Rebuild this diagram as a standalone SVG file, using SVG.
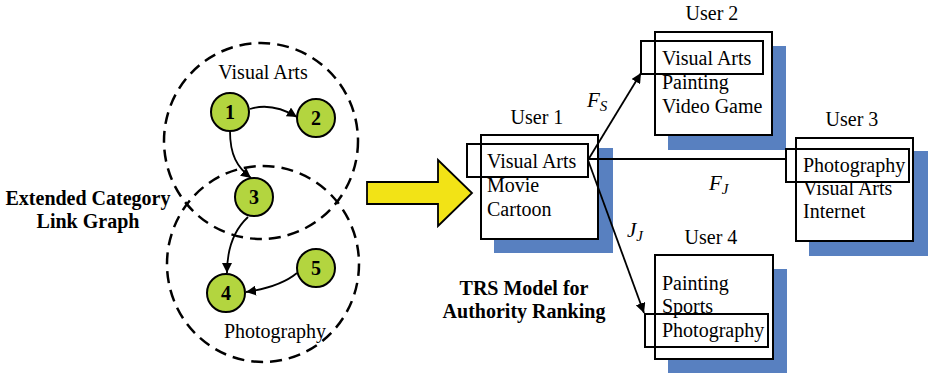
<svg xmlns="http://www.w3.org/2000/svg" width="929" height="373" viewBox="0 0 929 373">
<defs>
<marker id="ah" viewBox="0 0 10 10" refX="10" refY="5" markerWidth="10" markerHeight="10" markerUnits="userSpaceOnUse" orient="auto">
<path d="M0,0 L10,5 L0,10 Z" fill="#000"/>
</marker>
</defs>
<style>
text{font-family:"Liberation Serif","Times New Roman",serif;fill:#000}
.t{font-size:20px}
.b{font-size:20px;font-weight:bold}
.i{font-style:italic;font-size:21px}
.s{font-style:italic;font-size:15px}
.cat{fill:none;stroke:#000;stroke-width:2.5;stroke-dasharray:12,7}
.nd{fill:#B3D53F;stroke:#000;stroke-width:2}
.nt{font-size:20px;font-weight:bold;text-anchor:middle}
.sh{fill:#5880C0}
.bx{fill:#fff;stroke:#000;stroke-width:2}
.hl{fill:none;stroke:#000;stroke-width:2}
.e{fill:none;stroke:#000;stroke-width:1.8}
.c{text-anchor:middle}
</style>
<rect width="929" height="373" fill="#fff"/>

<g id="category-graph">
<ellipse class="cat" cx="261" cy="141" rx="97" ry="98"/>
<ellipse class="cat" cx="263" cy="264" rx="96" ry="98"/>
<text class="t c" x="263" y="79">Visual Arts</text>
<text class="t c" x="275" y="338">Photography</text>
<text class="b c" x="88" y="205">Extended Category</text>
<text class="b c" x="88" y="228">Link Graph</text>
</g>

<g id="graph-edges">
<path class="e" d="M250,109 Q272,102 297,117" marker-end="url(#ah)"/>
<path class="e" d="M230,131 C230,155 237,167 251,178" marker-end="url(#ah)"/>
<path class="e" d="M248,217 C234,230 227,250 227,273" marker-end="url(#ah)"/>
<path class="e" d="M297,273 Q280,287 246,292" marker-end="url(#ah)"/>
</g>

<g id="n1"><circle class="nd" cx="230" cy="112" r="19"/><text class="nt" x="230" y="119">1</text></g>
<g id="n2"><circle class="nd" cx="316" cy="118" r="19"/><text class="nt" x="316" y="125">2</text></g>
<g id="n3"><circle class="nd" cx="254" cy="197" r="19"/><text class="nt" x="254" y="204">3</text></g>
<g id="n4"><circle class="nd" cx="226" cy="293" r="19"/><text class="nt" x="226" y="300">4</text></g>
<g id="n5"><circle class="nd" cx="316" cy="268" r="19"/><text class="nt" x="316" y="275">5</text></g>

<g id="big-arrow">
<path d="M367,182 L438,182 L438,160 L472,193 L438,226 L438,204 L367,204 Z" fill="#F2E316" stroke="#000" stroke-width="1.8"/>
</g>

<g id="trs-label">
<text class="b c" x="524" y="295">TRS Model for</text>
<text class="b c" x="524" y="318">Authority Ranking</text>
</g>

<g id="user1">
<rect class="sh" x="494" y="148" width="119" height="105"/>
<rect class="bx" x="481" y="135" width="117" height="104"/>
<rect class="hl" x="467" y="144" width="121" height="33"/>
<text class="t c" x="537" y="124">User 1</text>
<text class="t" x="487" y="168">Visual Arts</text>
<text class="t" x="487" y="192">Movie</text>
<text class="t" x="487" y="216">Cartoon</text>
</g>

<g id="user2">
<rect class="sh" x="668" y="46" width="118" height="104"/>
<rect class="bx" x="655" y="32" width="117" height="103"/>
<rect class="hl" x="641" y="41" width="122" height="33"/>
<text class="t c" x="712" y="20">User 2</text>
<text class="t" x="662" y="65">Visual Arts</text>
<text class="t" x="662" y="89">Painting</text>
<text class="t" x="662" y="113">Video Game</text>
</g>

<g id="user3">
<rect class="sh" x="809" y="151" width="119" height="105"/>
<rect class="bx" x="796" y="138" width="117" height="103"/>
<rect class="hl" x="786" y="149" width="123" height="33"/>
<text class="t c" x="852" y="126">User 3</text>
<text class="t" x="803" y="172">Photography</text>
<text class="t" x="803" y="195">Visual Arts</text>
<text class="t" x="803" y="218">Internet</text>
</g>

<g id="user4">
<rect class="sh" x="668" y="269" width="119" height="104"/>
<rect class="bx" x="655" y="255" width="118" height="104"/>
<rect class="hl" x="645" y="314" width="123" height="33"/>
<text class="t c" x="711" y="244">User 4</text>
<text class="t" x="662" y="290">Painting</text>
<text class="t" x="662" y="313">Sports</text>
<text class="t" x="662" y="337">Photography</text>
</g>

<g id="connectors">
<line class="e" x1="588" y1="160" x2="641" y2="73" marker-end="url(#ah)"/>
<line class="e" x1="588" y1="159" x2="786" y2="159"/>
<line class="e" x1="588" y1="160" x2="644" y2="313" marker-end="url(#ah)"/>
<text class="i" x="587" y="107">F<tspan class="s" dy="4">S</tspan></text>
<text class="i" x="709" y="190">F<tspan class="s" dy="4">J</tspan></text>
<text class="i" x="627" y="237">J<tspan class="s" dy="4">J</tspan></text>
</g>
</svg>
